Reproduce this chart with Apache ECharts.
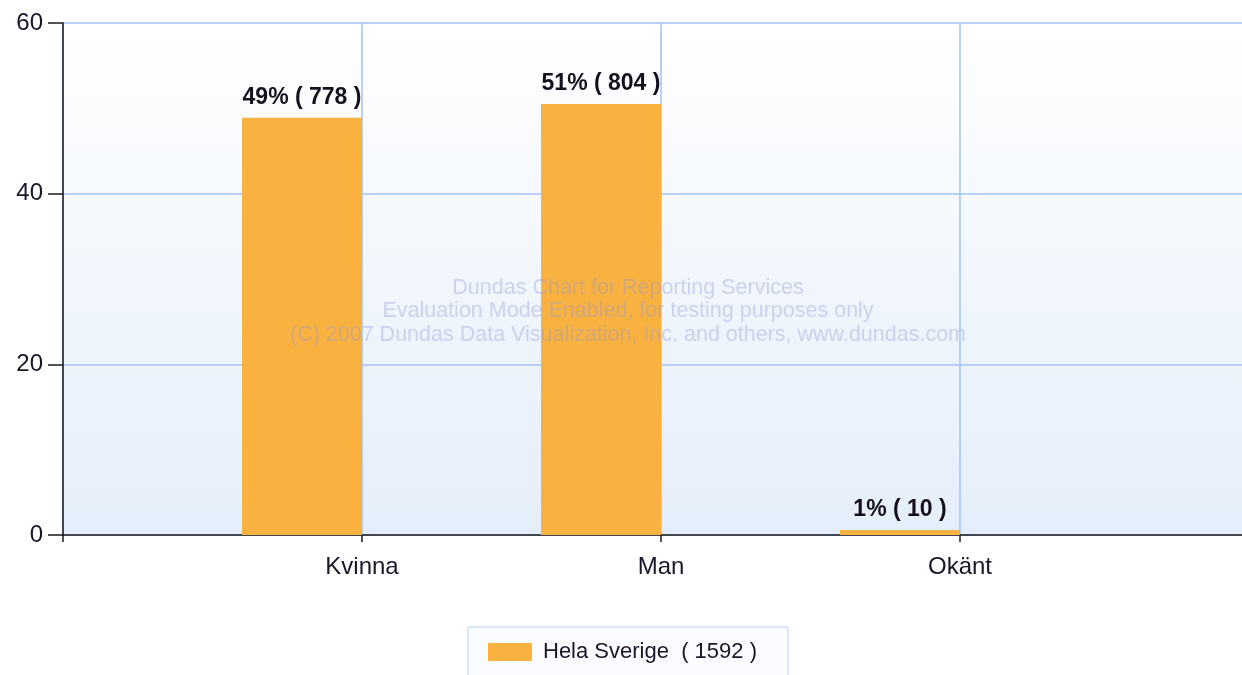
<!DOCTYPE html>
<html>
<head>
<meta charset="utf-8">
<script src="https://cdn.jsdelivr.net/npm/echarts@6/dist/echarts.min.js"></script>
<style>
  html, body { margin: 0; padding: 0; background: #fff; }
  #chart { width: 1242px; height: 675px; }
</style>
</head>
<body>
<div id="chart"></div>
<script>
// data
var categories = ['Kvinna', 'Man', 'Okänt'];
var percentValues = [48.9, 50.5, 0.6];
var percentLabels = ['49%', '51%', '1%'];
var counts = [778, 804, 10];
var seriesName = 'Hela Sverige';
var yMin = 0, yMax = 60, yStep = 20;
var watermark = [
    'Dundas Chart for Reporting Services',
    'Evaluation Mode Enabled, for testing purposes only',
    '(C) 2007 Dundas Data Visualization, Inc. and others, www.dundas.com'
];

var total = 0;
counts.forEach(function (c) { total += c; });

// empty slot on each side so the categories sit on ticks 1..3
var axisData = [''].concat(categories).concat(['']);
var barData = ['-'].concat(percentValues).concat(['-']);
var emptyData = axisData.map(function () { return '-'; });

var textColor = '#1c1428';
var gridColor = '#a3c2f5';

var chart = echarts.init(document.getElementById('chart'));

var option = {
    backgroundColor: '#ffffff',
    animation: false,
    textStyle: { fontFamily: 'Liberation Sans, Arial, sans-serif' },
    grid: {
        left: 63,
        width: 1196,
        top: 23,
        height: 512,
        outerBoundsMode: 'none',
        containLabel: false,
        show: true,
        borderWidth: 0,
        backgroundColor: new echarts.graphic.LinearGradient(0, 0, 0, 1, [
            { offset: 0, color: '#ffffff' },
            { offset: 1, color: '#e4eefa' }
        ])
    },
    legend: {
        data: [seriesName],
        left: 468,
        top: 627,
        orient: 'horizontal',
        padding: [14, 31, 40, 20],
        itemWidth: 44,
        itemHeight: 18,
        icon: 'rect',
        backgroundColor: '#fafcff',
        borderColor: '#b9d1f2',
        borderWidth: 1,
        borderRadius: 0,
        formatter: function (name) {
            return name + '  ( ' + total + ' )';
        },
        textStyle: {
            fontSize: 22,
            color: textColor,
            padding: [0, 0, 0, 6],
            fontFamily: 'Liberation Sans, Arial, sans-serif'
        }
    },
    xAxis: {
        type: 'category',
        data: axisData,
        boundaryGap: false,
        axisLine: { show: true, lineStyle: { color: '#1a1a1a', width: 1.5 } },
        axisTick: { show: true, length: 7, lineStyle: { color: '#1a1a1a', width: 1.5 }, interval: 0 },
        axisLabel: { fontSize: 24, color: textColor, margin: 20, interval: 0 },
        splitLine: { show: true, interval: 0, lineStyle: { color: gridColor, width: 1.5 } }
    },
    yAxis: {
        type: 'value',
        min: yMin,
        max: yMax,
        interval: yStep,
        axisLine: { show: true, lineStyle: { color: '#1a1a1a', width: 1.5 } },
        axisTick: { show: true, length: 15, lineStyle: { color: '#1a1a1a', width: 1.5 } },
        axisLabel: { fontSize: 24, color: textColor, margin: 20 },
        splitLine: { show: true, lineStyle: { color: gridColor, width: 1.5 } }
    },
    graphic: watermark.map(function (line, i) {
        return {
            type: 'text',
            x: 628,
            y: 288 + i * 23.5,
            z: 100,
            silent: true,
            style: {
                text: line,
                textAlign: 'center',
                textVerticalAlign: 'middle',
                fill: 'rgba(150,155,215,0.4)',
                font: '21.5px "Liberation Sans", Arial, sans-serif'
            }
        };
    }),
    series: [
        {
            name: seriesName,
            type: 'bar',
            data: barData,
            barWidth: 120,
            barGap: '0%',
            itemStyle: { color: '#f9b13f' },
            label: {
                show: true,
                position: 'top',
                distance: 9,
                fontSize: 23,
                fontWeight: 'bold',
                color: '#15101e',
                fontFamily: 'Liberation Sans, Arial, sans-serif',
                formatter: function (p) {
                    var i = p.dataIndex - 1;
                    return percentLabels[i] + ' ( ' + counts[i] + ' )';
                }
            }
        },
        {
            name: 'tom',
            type: 'bar',
            data: emptyData,
            barWidth: 120
        }
    ]
};

chart.setOption(option);
</script>
</body>
</html>
